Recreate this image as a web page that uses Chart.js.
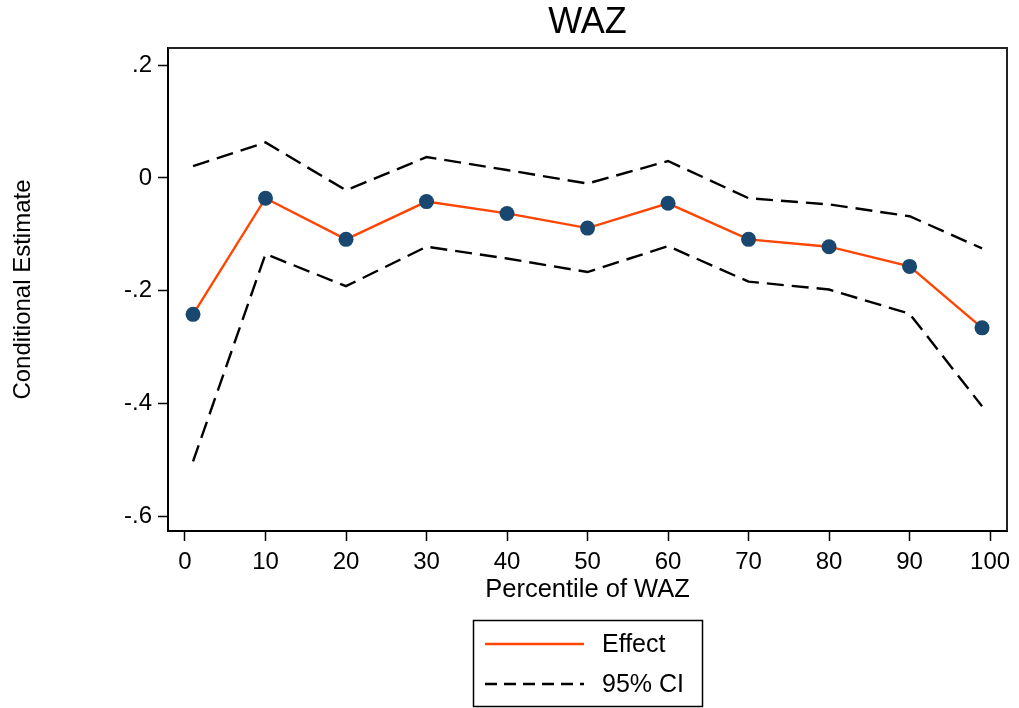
<!DOCTYPE html>
<html>
<head>
<meta charset="utf-8">
<title>WAZ</title>
<script src="https://cdn.jsdelivr.net/npm/chart.js@4/dist/chart.umd.min.js"></script>
<style>
  html, body { margin: 0; padding: 0; background: #fff; }
</style>
</head>
<body>
<canvas id="chart" width="1019" height="708"></canvas>
<script>
// values
const pct = [1, 10, 20, 30, 40, 50, 60, 70, 80, 90, 99];
const effect = [-0.242, -0.036, -0.109, -0.042, -0.063, -0.089, -0.045, -0.109, -0.122, -0.157, -0.266];
const ciUpper = [0.021, 0.063, -0.022, 0.037, 0.014, -0.010, 0.030, -0.036, -0.047, -0.068, -0.125];
const ciLower = [-0.503, -0.135, -0.192, -0.122, -0.143, -0.167, -0.121, -0.184, -0.198, -0.241, -0.405];
const xTicks = [0, 10, 20, 30, 40, 50, 60, 70, 80, 90, 100];
const yTicks = [0.2, 0, -0.2, -0.4, -0.6];
const yTickLabels = [".2", "0", "-.2", "-.4", "-.6"];
const legendLabels = ["Effect", "95% CI"];

const FONT = "'Liberation Sans', Arial, Helvetica, sans-serif";
const C = { orange: "#ff4500", navy: "#1a476f", black: "#000" };

const pts = (ys) => pct.map((x, i) => ({ x, y: ys[i] }));

// title, top/right frame and the boxed legend
const decor = {
  id: "decor",
  afterDraw(chart) {
    const { ctx, chartArea: a } = chart;
    ctx.save();
    ctx.strokeStyle = "#222";
    ctx.lineWidth = 2;
    ctx.beginPath();
    ctx.moveTo(a.left, a.top);
    ctx.lineTo(a.right, a.top);
    ctx.lineTo(a.right, a.bottom);
    ctx.stroke();

    ctx.fillStyle = C.black;
    ctx.font = `36px ${FONT}`;
    ctx.textAlign = "center";
    ctx.textBaseline = "middle";
    ctx.fillText("WAZ", (a.left + a.right) / 2, 23);

    // legend
    ctx.strokeStyle = C.black;
    ctx.lineWidth = 1.5;
    ctx.strokeRect(473.5, 620.5, 229, 86);
    ctx.lineWidth = 2.4;
    ctx.strokeStyle = C.orange;
    ctx.beginPath(); ctx.moveTo(485, 644); ctx.lineTo(584, 644); ctx.stroke();
    ctx.strokeStyle = C.black;
    ctx.lineWidth = 2.4;
    ctx.setLineDash([12, 7]);
    ctx.beginPath(); ctx.moveTo(485, 684); ctx.lineTo(584, 684); ctx.stroke();
    ctx.setLineDash([]);
    ctx.fillStyle = C.black;
    ctx.font = `25px ${FONT}`;
    ctx.textAlign = "left";
    ctx.fillText(legendLabels[0], 602, 645);
    ctx.fillText(legendLabels[1], 602, 685);
    ctx.restore();
  },
};

const axisCommon = {
  type: "linear",
  border: { display: true, color: C.black, width: 2 },
  grid: { drawOnChartArea: false, drawTicks: true, tickLength: 10, tickColor: C.black, tickWidth: 1.5 },
};

new Chart(document.getElementById("chart"), {
  type: "line",
  data: {
    datasets: [
      { label: "95% CI", data: pts(ciUpper), borderColor: C.black, borderWidth: 2.4, borderDash: [17, 8], pointRadius: 0, fill: false },
      { label: "95% CI lower", data: pts(ciLower), borderColor: C.black, borderWidth: 2.4, borderDash: [17, 8], pointRadius: 0, fill: false },
      { label: "Effect", data: pts(effect), borderColor: C.orange, borderWidth: 2.4, pointRadius: 7.5, pointBackgroundColor: C.navy, pointBorderWidth: 0, fill: false },
    ],
  },
  options: {
    responsive: false,
    animation: false,
    devicePixelRatio: 1,
    layout: { padding: { left: 0, right: 12, top: 48, bottom: 98 } },
    plugins: { legend: { display: false }, tooltip: { enabled: false }, title: { display: false } },
    scales: {
      x: {
        ...axisCommon,
        min: -2.11, max: 102.1,
        afterBuildTicks: (s) => { s.ticks = xTicks.map((value) => ({ value })); },
        afterFit: (s) => { s.height = 79; },
        ticks: { color: C.black, font: { family: FONT, size: 24 }, padding: 7, maxRotation: 0, autoSkip: false },
        title: { display: true, text: "Percentile of WAZ", color: C.black, font: { family: FONT, size: 25.5 }, padding: { top: 0, bottom: 5 } },
      },
      y: {
        ...axisCommon,
        min: -0.6264, max: 0.2305,
        afterBuildTicks: (s) => { s.ticks = yTicks.map((value) => ({ value })); },
        afterFit: (s) => { s.width = 168; },
        ticks: {
          color: C.black, font: { family: FONT, size: 24 }, padding: 6, autoSkip: false,
          callback: (v) => { const i = yTicks.findIndex((t) => Math.abs(t - v) < 1e-9); return i >= 0 ? yTickLabels[i] : ""; },
        },
        title: { display: true, text: "Conditional Estimate", color: C.black, font: { family: FONT, size: 24 }, padding: { top: 9, bottom: 0 } },
      },
    },
  },
  plugins: [decor],
});
</script>
</body>
</html>
